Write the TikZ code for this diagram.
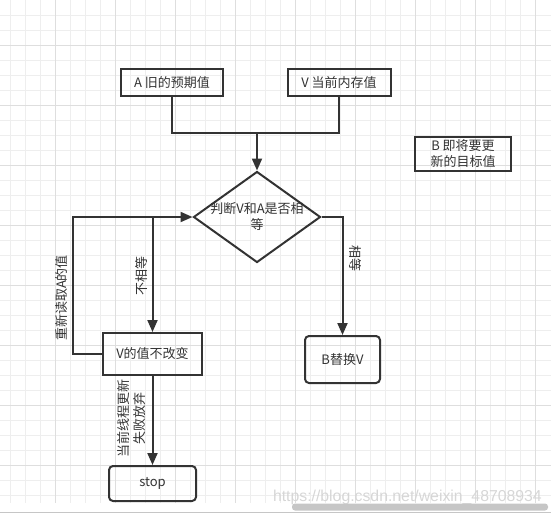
\documentclass[tikz,border=0pt]{standalone}
\usepackage{fontspec}
\newfontfamily\cjk{Noto Sans CJK SC}
\newfontfamily\markfont{Liberation Sans}
\usetikzlibrary{arrows.meta,shapes}
\definecolor{ink}{HTML}{333333}
\definecolor{gridminor}{HTML}{EEEEEE}
\definecolor{gridmajor}{HTML}{DEDEDE}
\definecolor{markgrey}{HTML}{D6D6D6}
\definecolor{bargrey}{HTML}{C6C6C6}
\tikzset{
  box/.style={draw=ink, line width=2pt, text=ink, inner sep=0pt,
    font=\cjk\fontsize{13pt}{16pt}\selectfont},
  roundbox/.style={box, rounded corners=4pt},
  decision/.style={diamond, draw=ink, line width=2pt, inner sep=0pt},
  flow/.style={draw=ink, line width=2pt},
  tip/.style={-{Triangle[width=10pt,length=12pt]}},
  tag/.style={text=ink, inner sep=0pt, align=center,
    font=\cjk\fontsize{13pt}{16pt}\selectfont},
}

\begin{document}
\begin{tikzpicture}[x=1pt, y=-1pt]
    \useasboundingbox (0,0) rectangle (551,515);

    % grid
    \foreach \x in {10,25,...,535}
        \draw[gridminor, line width=1pt] (\x,0) -- (\x,503);
    \foreach \y in {15,30,...,495}
        \draw[gridminor, line width=1pt] (0,\y) -- (551,\y);
    \foreach \x in {55,115,...,535}
        \draw[gridmajor, line width=1pt] (\x,0) -- (\x,503);
    \foreach \y in {45,105,...,465}
        \draw[gridmajor, line width=1pt] (0,\y) -- (551,\y);

    \node[box, minimum width=102pt, minimum height=27pt] (A) at (172,82.5) {A 旧的预期值};
    \node[box, minimum width=103pt, minimum height=27pt] (V) at (339,82.5) {V 当前内存值};
    \node[box, minimum width=96pt, minimum height=34pt, align=center] (B) at (463,154) {B 即将要更\\新的目标值};
    \node[decision, minimum width=127pt, minimum height=91pt] (judge) at (257,217) {};
    \node[tag] (judgetext) at (257,217) {判断V和A是否相\\等};
    \node[box, minimum width=99pt, minimum height=42pt] (keep) at (152.5,354) {V的值不改变};
    \node[roundbox, minimum width=75pt, minimum height=47pt] (swap) at (342.5,359.5) {B替换V};
    \node[roundbox, minimum width=87pt, minimum height=35pt] (stop) at (152.5,483.5) {\raisebox{-1pt}{stop}};

    \coordinate (join) at (257,133);
    \coordinate (loop) at (73,354);
    \coordinate (split) at (keep.north |- judge.west);

    \draw[flow] (A.south) |- (join) -| (V.south);
    \draw[flow, tip] (join) -- (judge.north);
    \draw[flow, tip] (keep.west) -- (loop) |- (judge.west);
    \draw[flow, tip] (split) -- (keep.north);
    \draw[flow, tip] (judge.east) -| (swap.north);
    \draw[flow, tip] (keep.south) -- (stop.north);

    \node[tag, rotate=90] (reread) at (61.5,298) {重新读取A的值};
    \node[tag, rotate=90] (noteq) at (141.5,276) {不相等};
    \node[tag, rotate=-90] (eq) at (355,258) {相等};
    \node[tag, rotate=90] (giveup) at (132,418) {当前线程更新\\失败放弃};

    % screenshot leftovers
    \node[text=markgrey, inner sep=0pt, anchor=east,
        font=\markfont\fontsize{15.8pt}{17pt}\selectfont] (mark) at (542,497) {https://blog.csdn.net/weixin\_48708934};
    \fill[bargrey, rounded corners=3pt] (292,503.5) rectangle (548,510.5);
    \draw[bargrey, line width=1pt] (0,512.5) -- (551,512.5);
\end{tikzpicture}
\end{document}
